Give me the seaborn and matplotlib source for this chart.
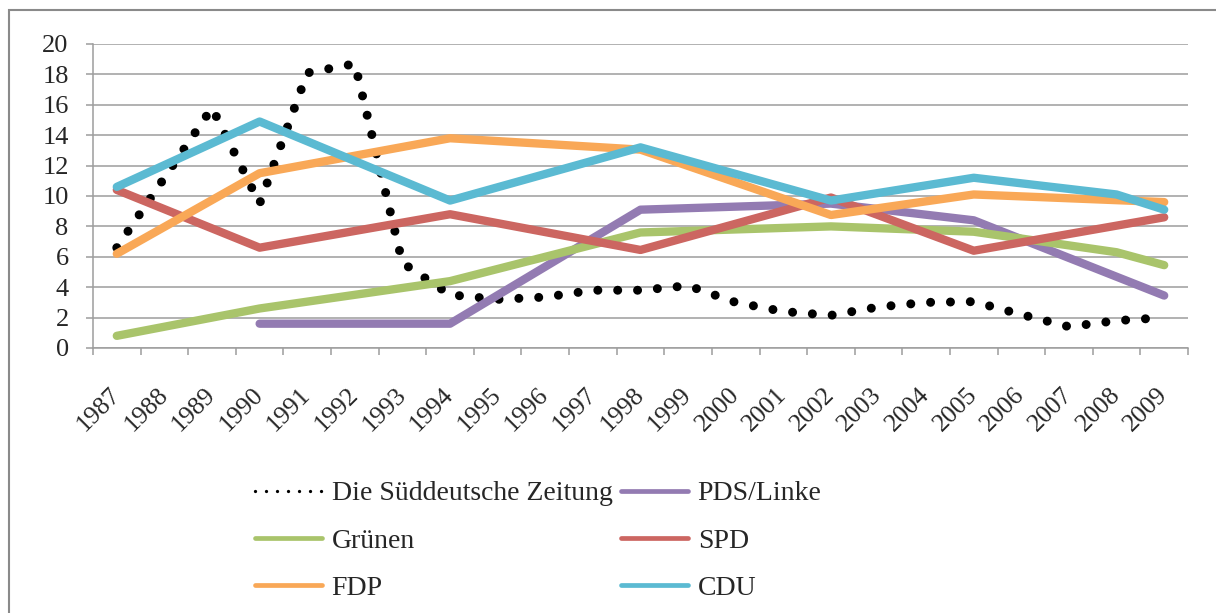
import numpy as np
import pandas as pd
import matplotlib
matplotlib.use("Agg")
import matplotlib.pyplot as plt
import seaborn as sns
from matplotlib.lines import Line2D
from matplotlib.patches import Rectangle


# ─────────────────────────────────────────────
# DATA (nan = no own point, the line runs straight on)
# ─────────────────────────────────────────────
YEARS = [str(y) for y in range(1987, 2010)]
nan = np.nan

SZ = [6.6, 11.2, 15.8, 9.5, 18.1, 18.7, 5.6, 3.5, 3.2, 3.35, 3.8, 3.8,
      4.1, 3.0, 2.4, 2.15, 2.7, 3.0, 3.05, 2.2, 1.4, 1.8, 2.0]
PDS = [nan, nan, nan, 1.6, nan, nan, nan, 1.6, nan, nan, nan, 9.1,
       nan, nan, nan, 9.5, nan, nan, 8.4, nan, nan, nan, 3.45]
GRUENE = [0.8, nan, nan, 2.6, nan, nan, nan, 4.4, nan, nan, nan, 7.6,
          nan, nan, nan, 8.0, nan, nan, 7.65, nan, nan, 6.3, 5.45]
SPD = [10.4, nan, nan, 6.6, nan, nan, nan, 8.8, nan, nan, nan, 6.45,
       nan, nan, nan, 9.9, nan, nan, 6.4, nan, nan, nan, 8.6]
FDP = [6.2, nan, nan, 11.5, nan, nan, nan, 13.8, nan, nan, nan, 13.05,
       nan, nan, nan, 8.75, nan, nan, 10.1, nan, nan, nan, 9.6]
CDU = [10.6, nan, nan, 14.9, nan, nan, nan, 9.7, nan, nan, nan, 13.2,
       nan, nan, nan, 9.7, nan, nan, 11.2, nan, nan, 10.1, 9.1]

SZ_NAME = "Die Süddeutsche Zeitung"
SERIES = {SZ_NAME: SZ, "PDS/Linke": PDS, "Grünen": GRUENE,
          "SPD": SPD, "FDP": FDP, "CDU": CDU}
COLORS = {SZ_NAME: "#000000", "PDS/Linke": "#937bb2", "Grünen": "#a9c46b",
          "SPD": "#cc6661", "FDP": "#f9a857", "CDU": "#5bbad2"}
GRID = "#9d9d9d"

W, H = 1216, 613


# ─────────────────────────────────────────────
# PLOT
# ─────────────────────────────────────────────
sns.set_style("white")
plt.rcParams["font.family"] = ["Liberation Serif", "DejaVu Serif"]

df = pd.DataFrame(SERIES)
df["pos"] = range(len(YEARS))
long = df.melt(id_vars="pos", var_name="serie", value_name="wert").dropna()

fig, ax = plt.subplots(figsize=(W / 100, H / 100), dpi=100)
fig.subplots_adjust(left=93 / W, right=1188 / W, top=1 - 44 / H, bottom=1 - 348 / H)

for i, name in enumerate(SERIES):
    sub = long[long["serie"] == name]
    if name == SZ_NAME:
        sns.lineplot(data=sub, x="pos", y="wert", ax=ax, color=COLORS[name],
                     lw=6.5, linestyle=(0, (0.001, 2.2)), dash_capstyle="round",
                     errorbar=None, legend=False, zorder=3 + i)
    else:
        sns.lineplot(data=sub, x="pos", y="wert", ax=ax, color=COLORS[name],
                     lw=6, solid_capstyle="round", solid_joinstyle="round",
                     errorbar=None, legend=False, zorder=3 + i)

ax.set_xlabel("")
ax.set_ylabel("")
ax.set_xlim(-0.5, len(YEARS) - 0.5)
ax.set_ylim(0, 20)

# category boundaries get the tick marks, centres get the labels
ax.set_xticks(np.arange(-0.5, len(YEARS), 1))
ax.set_xticklabels([])
ax.set_xticks(range(len(YEARS)), minor=True)
ax.set_xticklabels(YEARS, minor=True, rotation=45, ha="right", va="center",
                   rotation_mode="anchor")
ax.tick_params(axis="x", which="major", length=5, width=1.1, color=GRID, bottom=True)
ax.tick_params(axis="x", which="minor", length=0, pad=31, labelsize=18.5, bottom=True)

ax.set_yticks(range(0, 21, 2))
ax.tick_params(axis="y", length=5, width=1.1, color=GRID, pad=12.5, labelsize=19, left=True)

ax.yaxis.grid(True, color=GRID, lw=1.1)
ax.xaxis.grid(False)
ax.set_axisbelow(True)
for side in ["top", "right"]:
    ax.spines[side].set_visible(False)
for side in ["left", "bottom"]:
    ax.spines[side].set_color(GRID)
    ax.spines[side].set_linewidth(1.1)

# outer chart border (cut off at the right and bottom)
fig.add_artist(Rectangle((8.5 / W, -0.1), 1.2, 1.1 - 10 / H, transform=fig.transFigure,
                         fill=False, ec="#8a8a8a", lw=1.5, clip_on=False))


# ─────────────────────────────────────────────
# LEGEND (two columns, placed one by one)
# ─────────────────────────────────────────────
def legend_handle(name):
    if name == SZ_NAME:
        return Line2D([], [], color="black", lw=2.4, linestyle=(0, (0.001, 3.3)),
                      dash_capstyle="round")
    return Line2D([], [], color=COLORS[name], lw=3.4, solid_capstyle="round")


for names, x0 in [([SZ_NAME, "Grünen", "FDP"], 255), (["PDS/Linke", "SPD", "CDU"], 621)]:
    fig.legend([legend_handle(n) for n in names], names, loc="upper left",
               bbox_to_anchor=(x0 / W, 1 - 481 / H), frameon=False, fontsize=20,
               handlelength=2.4, handletextpad=0.36, labelspacing=0.78,
               borderpad=0, borderaxespad=0)

fig.savefig("out.png", dpi=100)
